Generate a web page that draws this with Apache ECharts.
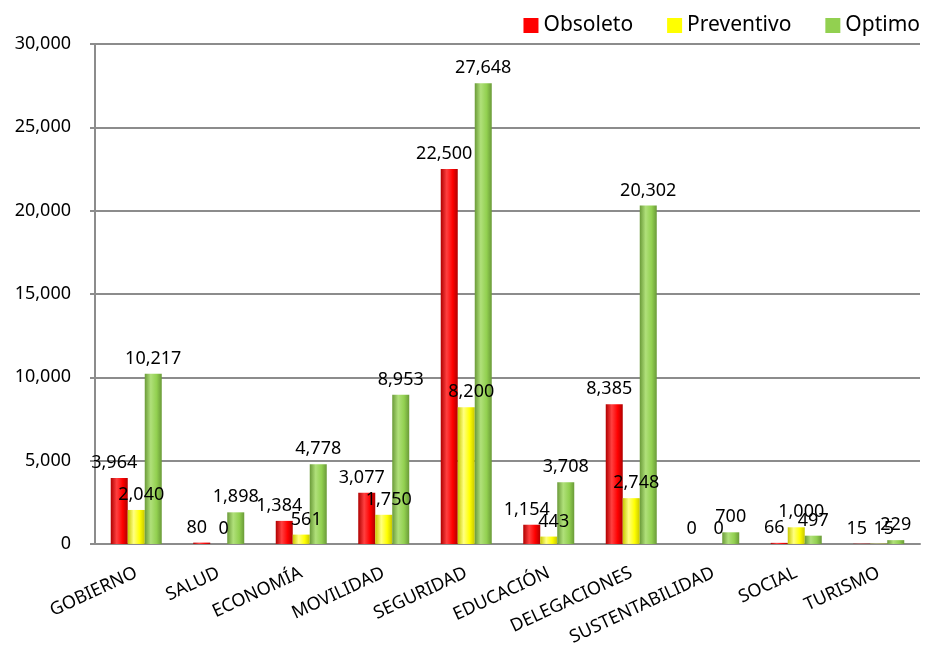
<!DOCTYPE html>
<html>
<head>
<meta charset="utf-8">
<script src="https://cdn.jsdelivr.net/npm/echarts@6/dist/echarts.min.js"></script>
<style>
  html, body { margin: 0; padding: 0; background: #fff; }
  #chart { width: 929px; height: 648px; }
</style>
</head>
<body>
<div id="chart"></div>
<script>
// datos de la gráfica
var categorias = ['GOBIERNO', 'SALUD', 'ECONOMÍA', 'MOVILIDAD', 'SEGURIDAD', 'EDUCACIÓN', 'DELEGACIONES', 'SUSTENTABILIDAD', 'SOCIAL', 'TURISMO'];
var obsoleto   = [3964, 80, 1384, 3077, 22500, 1154, 8385, 0, 66, 15];
var preventivo = [2040, 0, 561, 1750, 8200, 443, 2748, 0, 1000, 15];
var optimo     = [10217, 1898, 4778, 8953, 27648, 3708, 20302, 700, 497, 229];

var fuente = 'Noto Sans';

// degradado horizontal para dar efecto de cilindro
function cilindro(oscuro, claro, base) {
  return new echarts.graphic.LinearGradient(0, 0, 1, 0, [
    { offset: 0, color: oscuro },
    { offset: 0.35, color: claro },
    { offset: 0.7, color: base },
    { offset: 1, color: oscuro }
  ]);
}

function fmt(v) {
  return Number(v).toLocaleString('en-US');
}

function serie(nombre, datos, colorBarra, desplazamiento) {
  return {
    name: nombre,
    type: 'bar',
    data: datos,
    barWidth: 17,
    barGap: '0%',
    itemStyle: { color: colorBarra },
    label: {
      show: true,
      position: 'top',
      distance: 6,
      offset: [desplazamiento, 0],
      color: '#000',
      fontFamily: fuente,
      fontSize: 18,
      formatter: function (p) { return fmt(p.value); }
    }
  };
}

var chart = echarts.init(document.getElementById('chart'));
chart.setOption({
  animation: false,
  legend: {
    top: 10,
    right: 4,
    itemWidth: 15,
    itemHeight: 15,
    itemGap: 34,
    icon: 'rect',
    textStyle: { fontFamily: fuente, fontSize: 21, color: '#000' },
    data: [
      { name: 'Obsoleto', itemStyle: { color: '#ff0000' } },
      { name: 'Preventivo', itemStyle: { color: '#ffff00' } },
      { name: 'Optimo', itemStyle: { color: '#92d050' } }
    ]
  },
  grid: { left: 95, right: 9, top: 44, bottom: 98 },
  xAxis: {
    type: 'category',
    data: categorias,
    axisLine: { lineStyle: { color: '#8c8c8c', width: 2 } },
    axisTick: { show: false },
    axisLabel: {
      interval: 0,
      rotate: 25,
      margin: 28,
      color: '#000',
      fontFamily: fuente,
      fontSize: 18
    }
  },
  yAxis: {
    type: 'value',
    min: 0,
    max: 30000,
    interval: 5000,
    axisLine: { show: true, lineStyle: { color: '#8c8c8c', width: 2 } },
    axisTick: { show: true, length: 5, lineStyle: { color: '#8c8c8c', width: 2 } },
    splitLine: { lineStyle: { color: '#8c8c8c', width: 2 } },
    axisLabel: {
      margin: 24,
      color: '#000',
      fontFamily: fuente,
      fontSize: 18,
      formatter: fmt
    }
  },
  series: [
    serie('Obsoleto', obsoleto, cilindro('#b00000', '#ff4040', '#ff0000'), -5),
    serie('Preventivo', preventivo, cilindro('#c8c800', '#ffff80', '#ffff00'), 5),
    serie('Optimo', optimo, cilindro('#6a9a38', '#b0e07a', '#92d050'), 0)
  ]
});
</script>
</body>
</html>
